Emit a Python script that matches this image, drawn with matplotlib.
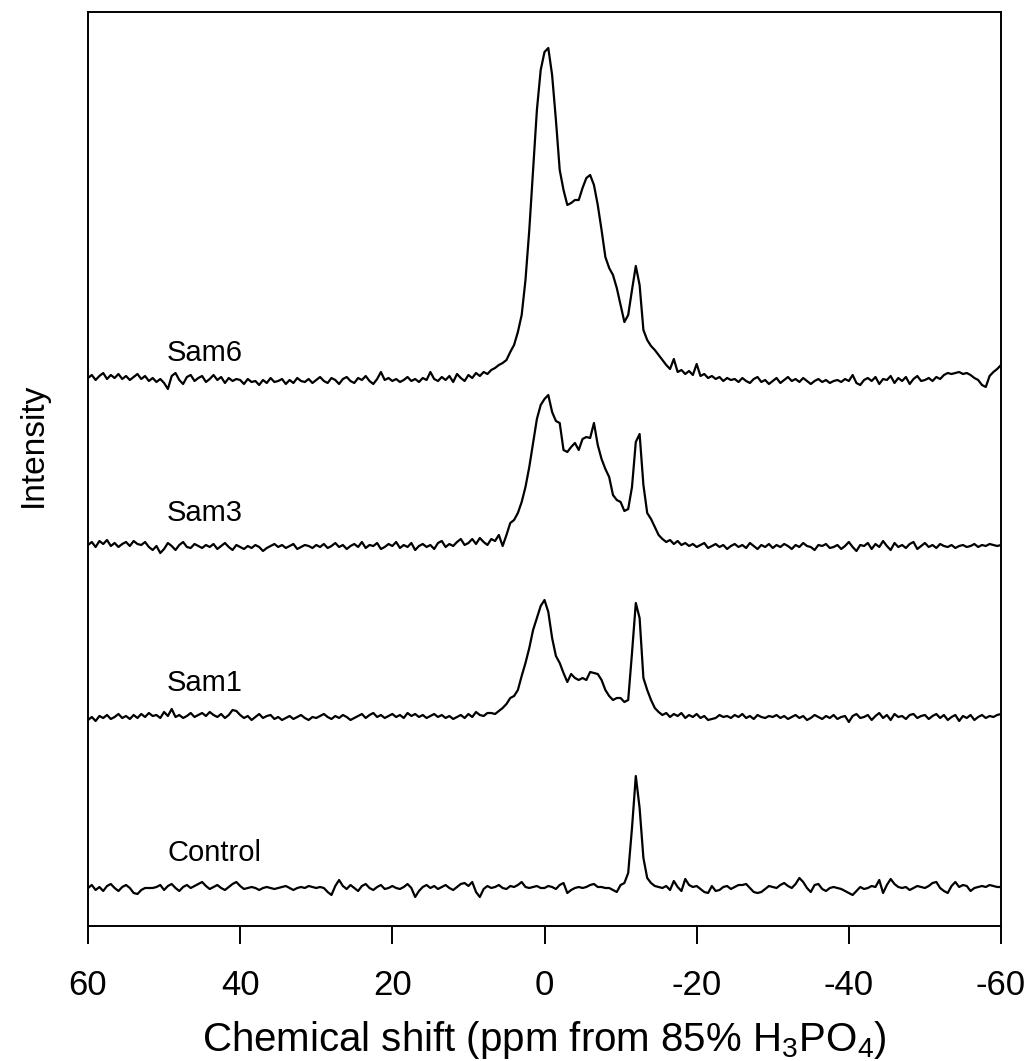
"""
31P NMR spectra, stacked: Control, Sam1, Sam3, Sam6
"""

import numpy as np
import matplotlib
matplotlib.use("Agg")
import matplotlib.pyplot as plt

# ─────────────────────────────────────────────
# DATA (0.5 ppm step, baseline ~0)
# ─────────────────────────────────────────────
shift_ppm = np.linspace(60, -60, 241)

sam6 = [
    3, 6, 1, 5, 8, 2, 6, 3, 7, 2,
    5, 1, 4, 7, 2, 5, 0, 3, -1, 2,
    -2, -8, 5, 8, 1, -3, 4, 6, 0, 3,
    5, -1, 2, 6, 1, 4, -2, 3, 0, 2,
    1, -3, 2, -1, 0, -4, 1, -2, 3, -1,
    0, 2, -3, 1, -2, 3, 0, -1, 2, -2,
    1, 4, 0, -2, 3, 1, -3, 2, 4, 0,
    -2, 3, 1, 5, 0, -3, 2, 9, 1, 3,
    0, 2, -1, 1, 4, 0, 2, -1, 3, 1,
    9, 2, 0, 4, 1, 5, -1, 7, 3, 0,
    6, 3, 8, 5, 9, 7, 11, 13, 16, 18,
    21, 29, 36, 49, 66, 101, 151, 211, 271, 311,
    329, 333, 306, 261, 211, 191, 176, 178, 181, 181,
    193, 203, 206, 196, 176, 151, 124, 113, 106, 93,
    76, 59, 66, 91, 115, 96, 51, 41, 35, 31,
    26, 21, 16, 12, 22, 9, 11, 7, 10, 6,
    17, 5, 7, 3, 5, 2, 4, 0, 3, 1,
    2, -1, 3, 0, -2, 2, 4, -1, 1, -3,
    0, 3, -2, 1, 4, 0, 2, -1, 3, 0,
    -3, 0, 2, -1, 1, -2, 0, 1, -1, 2,
    0, 6, -2, -4, 1, 3, 0, 4, -3, 2,
    1, 5, -2, 3, 0, 4, -3, 2, 5, 0,
    1, 3, 0, 4, 2, 6, 8, 7, 8, 9,
    7, 8, 6, 3, 1, -4, -6, 5, 9, 12,
    16,
]

sam3 = [
    2, 5, 0, 6, 3, 7, 1, 4, 0, 3,
    5, 1, 6, 3, 2, 5, 0, -3, 1, -6,
    -2, 4, 1, -3, 2, 5, 0, -1, 3, 1,
    -1, 2, 0, 3, -2, 1, 4, 0, -3, 2,
    0, -2, 1, -1, 2, 0, -4, -1, 1, 3,
    0, 2, -1, 1, 3, -2, 0, 2, 1, -1,
    2, 0, 3, -1, 1, 4, 0, 2, -2, 1,
    3, 0, 5, -1, 2, 1, 4, -2, 0, 3,
    1, 5, -1, 2, 0, 4, -3, 1, 3, 0,
    2, -2, 4, 6, 0, 3, 1, 5, 8, 2,
    4, 8, 3, 9, 5, 2, 8, 6, 12, 1,
    12, 24, 27, 34, 45, 60, 80, 104, 128, 142,
    148, 152, 135, 126, 124, 97, 95, 100, 104, 97,
    108, 110, 109, 124, 102, 88, 78, 70, 52, 47,
    45, 36, 38, 60, 105, 113, 62, 34, 28, 20,
    12, 8, 5, 7, 3, 6, 2, 4, 1, 3,
    0, 2, 4, -1, 1, 3, 0, 2, -2, 1,
    3, 0, 2, -1, 4, 1, -2, 2, 0, 3,
    -1, 2, 0, 3, 1, -2, 2, 0, 4, 1,
    0, -3, 2, 1, 3, -1, 0, 2, -2, 1,
    5, 0, -4, 2, 1, 4, -2, 3, 0, 6,
    1, -3, 4, 0, 2, -1, 3, 5, -2, 1,
    4, 0, 2, -1, 3, 1, 0, 2, -1, 1,
    2, 0, 1, 3, 0, 2, 1, 3, 2, 1,
    2,
]

sam1 = [
    -2, 1, -3, 2, 0, 3, -1, 1, 4, 0,
    2, -1, 3, 0, 4, 1, 5, 2, 3, 0,
    6, 2, 9, 1, 3, 0, 2, 5, 1, 3,
    5, 2, 6, 3, 1, 4, 0, 3, 8, 7,
    3, 0, 2, -2, 1, 4, 0, 2, 3, -1,
    1, -2, 0, 2, -1, 1, 3, 0, -2, 1,
    0, 2, 4, 1, -1, 2, 0, 3, 1, -2,
    0, 2, 4, 0, 3, 5, 1, 3, 0, 2,
    4, 1, 3, 0, 5, 2, 4, 1, 3, 0,
    2, 4, 1, 3, 0, 2, -1, 1, 3, 0,
    4, 1, 6, 3, 2, 5, 5, 4, 7, 10,
    14, 20, 22, 28, 42, 55, 70, 88, 100, 112,
    118, 106, 80, 62, 55, 45, 36, 44, 40, 38,
    40, 38, 46, 45, 44, 38, 28, 22, 18, 20,
    20, 16, 18, 65, 115, 100, 40, 28, 18, 10,
    6, 3, 5, 1, 4, 2, 5, 0, 3, 1,
    4, 0, 2, -2, -1, 0, 3, 1, 2, 0,
    3, 1, 4, 0, 2, -1, 3, 1, 0, 2,
    1, 3, 0, 2, -1, 1, 3, 0, 2, -2,
    0, 3, 1, -1, 2, 0, 3, -1, 1, 2,
    -4, 2, 4, 0, 1, 3, -2, 2, 5, 0,
    3, -2, 4, 1, 2, -1, 3, 4, 0, 2,
    3, -1, 2, 4, 0, 3, -2, 1, 3, -3,
    2, 0, 3, -2, 1, 3, 0, 2, 1, 3,
    4,
]

control = [
    0, 3, -2, 1, -3, 2, 4, 0, -3, 1,
    3, 0, -5, -6, -2, 0, 0, 0, 1, 3,
    -2, 2, 4, 0, -3, 1, 3, 0, 2, 4,
    6, 2, -1, 1, 3, 0, -2, 1, 4, 6,
    2, -1, 0, 1, 0, -2, 0, 1, 0, -1,
    0, 1, 2, 0, -2, 0, 1, 0, 2, 1,
    0, 1, 0, -4, -7, 2, 8, 2, -1, 3,
    0, -3, 2, 4, 0, -2, 1, 3, -1, 0,
    2, 0, -1, 1, 4, 0, -9, -3, 1, 3,
    0, 2, -1, 1, 3, 0, -2, 1, 4, 5,
    2, 6, -4, -9, -1, 2, 0, 1, 3, 0,
    -1, 2, 1, 3, 6, 1, 0, 1, 2, 0,
    0, 2, 1, -1, 3, 5, -5, -2, 0, 1,
    0, 1, 3, 4, 1, 1, 0, 0, -2, -4,
    3, 5, 15, 60, 112, 80, 30, 10, 5, 2,
    1, 0, 2, -2, 7, 1, -3, 9, 3, 1,
    2, -1, -4, -5, 2, -3, -2, 1, 2, -1,
    1, 3, 3, 4, 0, -4, -5, -4, -1, 2,
    1, 0, 3, 5, 2, 0, 4, 10, 6, 0,
    -4, 3, 4, -1, -3, 0, 1, 0, -1, -3,
    -5, -7, -3, 1, -1, 0, 2, 1, 8, -5,
    3, 9, 4, 1, 0, 1, -2, 0, 2, 1,
    0, 2, 5, 6, 0, -3, -5, 2, 6, 1,
    3, 2, -3, 0, 1, 2, 1, 3, 2, 1,
    1,
]

sample_names = ["Control", "Sam1", "Sam3", "Sam6"]
spectra = [control, sam1, sam3, sam6]

# vertical stacking of the traces
offsets = [38, 208, 379, 545]
label_heights = [73, 243, 413, 573]

# ─────────────────────────────────────────────
# STYLE
# ─────────────────────────────────────────────
plt.rcParams["font.family"] = ["Liberation Sans", "DejaVu Sans"]
plt.rcParams["mathtext.fontset"] = "custom"
plt.rcParams["mathtext.rm"] = "Liberation Sans"
plt.rcParams["mathtext.it"] = "Liberation Sans:italic"


def main():
    fig = plt.figure(figsize=(10.29, 10.61), dpi=100)
    ax = fig.add_axes([88 / 1029, 1 - 926 / 1061, 913 / 1029, 914 / 1061])

    for name, spec, off, ly in zip(sample_names, spectra, offsets, label_heights):
        ax.plot(shift_ppm, np.asarray(spec) + off, color="black", lw=1.6)
        ax.text(49.6, ly, name, fontsize=21, ha="left", va="center")

    ax.set_xlim(60, -60)
    ax.set_ylim(0, 914)
    ax.set_xticks([60, 40, 20, 0, -20, -40, -60])
    ax.set_xticklabels(["60", "40", "20", "0", "-20", "-40", "-60"])
    ax.set_yticks([])
    ax.tick_params(axis="x", direction="out", length=13, width=1.4,
                   pad=18, labelsize=25)
    for sp in ax.spines.values():
        sp.set_linewidth(1.4)

    ax.set_xlabel(r"Chemical shift (ppm from 85% H$_3$PO$_4$)", fontsize=29)
    ax.xaxis.set_label_coords(0.5, -0.102)
    ax.set_ylabel("Intensity", fontsize=24)
    ax.yaxis.set_label_coords(-0.043, 0.526)

    fig.savefig("out.png", dpi=100)


if __name__ == "__main__":
    main()
